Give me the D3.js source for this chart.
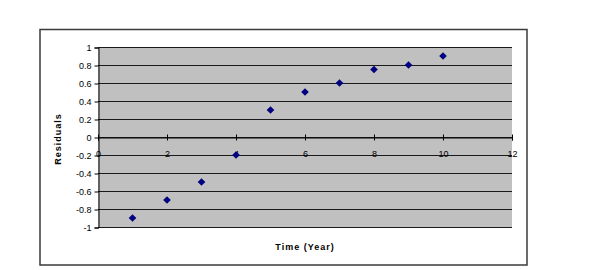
<!DOCTYPE html>
<html>
<head>
<meta charset="utf-8">
<script src="https://cdn.jsdelivr.net/npm/d3@7"></script>
<style>
  body { margin: 0; background: #fff; }
  text { font-family: "Liberation Sans", Arial, sans-serif; }
</style>
</head>
<body>
<script>
// residuals by year
const years = [1, 2, 3, 4, 5, 6, 7, 8, 9, 10];
const residuals = [-0.9, -0.7, -0.5, -0.2, 0.3, 0.5, 0.6, 0.75, 0.8, 0.9];
const xTicks = [0, 2, 4, 6, 8, 10, 12];
const yTicks = [-1, -0.8, -0.6, -0.4, -0.2, 0, 0.2, 0.4, 0.6, 0.8, 1];

const width = 597, height = 270;
const plot = { left: 98, right: 512, top: 47, bottom: 227 };

const svg = d3.select("body").append("svg")
    .attr("width", width)
    .attr("height", height);

// outer chart frame
svg.append("rect")
    .attr("x", 40).attr("y", 29.5)
    .attr("width", 487).attr("height", 235.5)
    .attr("fill", "#fff")
    .attr("stroke", "#3a3a3a")
    .attr("stroke-width", 1.5);

const x = d3.scaleLinear().domain([0, 12]).range([plot.left, plot.right]);
const y = d3.scaleLinear().domain([-1, 1]).range([plot.bottom, plot.top]);

// excel style labels, plain hyphen for minus
const fmt = d => String(+d.toFixed(1));

// plot area
svg.append("rect")
    .attr("x", plot.left).attr("y", plot.top)
    .attr("width", plot.right - plot.left).attr("height", plot.bottom - plot.top)
    .attr("fill", "#c0c0c0");

// gridlines
svg.append("g").selectAll("line")
    .data(yTicks)
    .enter().append("line")
    .attr("x1", plot.left).attr("x2", plot.right)
    .attr("y1", d => Math.round(y(d)) + 0.5)
    .attr("y2", d => Math.round(y(d)) + 0.5)
    .attr("stroke", "#1a1a1a")
    .attr("stroke-width", 1);

// y axis
const yAxis = svg.append("g")
    .attr("transform", "translate(" + (plot.left + 0.5) + ",0.5)")
    .call(d3.axisLeft(y).tickValues(yTicks).tickSize(4).tickPadding(3).tickFormat(fmt));
yAxis.select(".domain").attr("stroke", "#000");
yAxis.selectAll("text").attr("font-size", 9).attr("fill", "#000");

// x axis at zero
const xAxis = svg.append("g")
    .attr("transform", "translate(0," + (Math.round(y(0)) + 0.5) + ")")
    .call(d3.axisBottom(x).tickValues(xTicks).tickSize(3).tickPadding(0).tickFormat(fmt));
xAxis.select(".domain").attr("stroke", "#000");
xAxis.selectAll(".tick line").attr("y1", -3).attr("y2", 3);
xAxis.selectAll("text").attr("font-size", 9).attr("fill", "#000")
    .attr("y", 19).attr("dy", 0);

// points, square diamonds
const diamond = "M0,-3.8L3.8,0L0,3.8L-3.8,0Z";
svg.append("g").selectAll("path")
    .data(years)
    .enter().append("path")
    .attr("d", diamond)
    .attr("transform", (d, i) => "translate(" + x(d) + "," + y(residuals[i]) + ")")
    .attr("fill", "#000080");

// axis titles
svg.append("text")
    .attr("x", (plot.left + plot.right) / 2)
    .attr("y", 250)
    .attr("text-anchor", "middle")
    .attr("font-size", 9)
    .attr("font-weight", "bold")
    .attr("letter-spacing", 1)
    .text("Time (Year)");

svg.append("text")
    .attr("transform", "translate(61," + (y(0) + 2) + ") rotate(-90)")
    .attr("text-anchor", "middle")
    .attr("font-size", 9)
    .attr("font-weight", "bold")
    .attr("letter-spacing", 1)
    .text("Residuals");
</script>
</body>
</html>
